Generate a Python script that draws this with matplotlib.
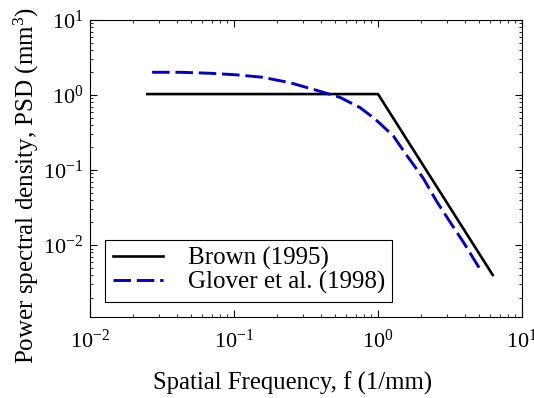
import matplotlib
matplotlib.use("Agg")
import matplotlib.pyplot as plt

plt.rcParams['font.family'] = ['Liberation Serif', 'DejaVu Serif']
plt.rcParams['mathtext.fontset'] = 'custom'
plt.rcParams['mathtext.rm'] = 'Liberation Serif'
plt.rcParams['mathtext.it'] = 'Liberation Serif:italic'

# Brown (1995): flat then f^-3
brown_f = [0.025, 1.0, 6.26]
brown_psd = [1.03, 1.03, 0.0040]

# Glover et al. (1998)
glover_f = [0.0270, 0.0422, 0.0681, 0.103, 0.156, 0.245, 0.396, 0.545, 0.750,
            0.953, 1.28, 1.54, 2.06, 2.56, 3.16, 3.91, 4.97, 5.2]
glover_psd = [2.01, 2.01, 1.95, 1.86, 1.73, 1.46, 1.12, 0.93, 0.68,
              0.48, 0.284, 0.169, 0.078, 0.038, 0.0204, 0.0110, 0.0052, 0.0045]

fig = plt.figure(figsize=(5.34, 3.98), dpi=100)
ax = fig.add_axes([90/534, 1 - 317/398, (522-90)/534, (317-20)/398])

ax.loglog(brown_f, brown_psd, color='k', lw=1.9, label='Brown (1995)')
ax.loglog(glover_f, glover_psd, color='#0000c8', lw=2.1, ls=(0, (6, 2)),
          label='Glover et al. (1998)')

ax.set_xlim(1e-2, 1e1)
ax.set_ylim(1.1e-3, 1e1)
ax.set_yticks([1e-2, 1e-1, 1, 10])
ax.tick_params(which='both', direction='in', top=True, right=True, labelsize=16)
ax.tick_params(which='major', length=5)
ax.tick_params(which='minor', length=2.5)
ax.tick_params(axis='x', pad=9)
ax.tick_params(axis='y', pad=5)

ax.set_xlabel('Spatial Frequency, f (1/mm)', fontsize=17.8)
ax.set_ylabel('Power spectral density, PSD (mm$^3$)', fontsize=18)
ax.xaxis.set_label_coords(0.47, -0.222, transform=ax.transAxes)
ax.yaxis.set_label_coords(-0.146, 0.444, transform=ax.transAxes)
ax.xaxis.label.set_va('center')
ax.yaxis.label.set_va('center')

leg = ax.legend(loc='lower left', fontsize=18, fancybox=False, framealpha=1,
                edgecolor='k', borderaxespad=0.6, handlelength=2.0,
                handletextpad=1.0, borderpad=0.3, labelspacing=0.05)
leg.get_frame().set_linewidth(0.8)

fig.savefig('out.png', dpi=100)
